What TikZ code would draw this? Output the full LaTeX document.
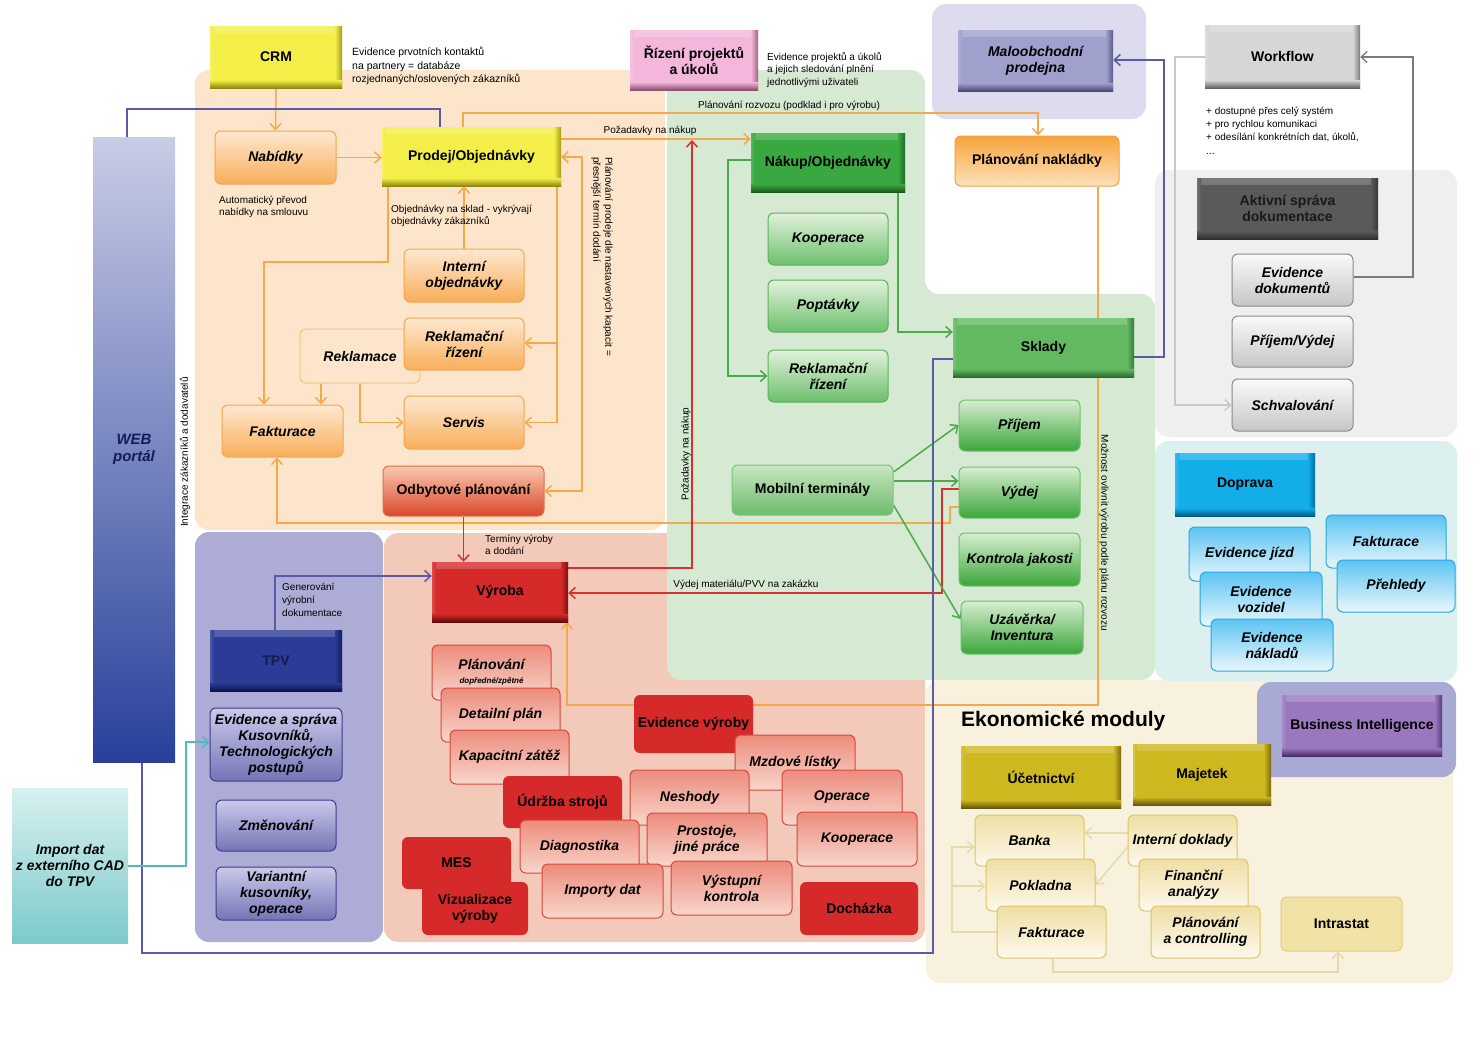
\documentclass[tikz,border=0pt]{standalone}
\usepackage{fontspec}
\setmainfont{Liberation Sans}
\usetikzlibrary{arrows.meta,calc}
\pgfdeclarelayer{bg}
\pgfdeclarelayer{conn}
\pgfsetlayers{bg,conn,main}
% region fills
\definecolor{oBg}{HTML}{FDE5CB}
\definecolor{gBg}{HTML}{D6E9D2}
\definecolor{rBg}{HTML}{F3C9BA}
\definecolor{tBg}{HTML}{ACACD6}
\definecolor{grBg}{HTML}{EFEFEF}
\definecolor{cBg}{HTML}{DCF0F0}
\definecolor{eBg}{HTML}{F7F1DD}
\definecolor{mBg}{HTML}{DCDCEE}
\definecolor{biBg}{HTML}{A9A9D5}
% bevel colours
\definecolor{yel}{HTML}{F4EE48}\definecolor{yelD}{HTML}{8E880E}
\definecolor{pnk}{HTML}{F4B6DA}\definecolor{pnkD}{HTML}{8A4E70}
\definecolor{grn}{HTML}{3AA840}\definecolor{grnD}{HTML}{185A1E}
\definecolor{skl}{HTML}{62B962}\definecolor{sklD}{HTML}{2A6A30}
\definecolor{mal}{HTML}{A0A0CC}\definecolor{malD}{HTML}{4A4A78}
\definecolor{wf}{HTML}{D6D6D6}\definecolor{wfD}{HTML}{646464}
\definecolor{ak}{HTML}{5A5A5A}\definecolor{akD}{HTML}{2E2E2E}
\definecolor{dop}{HTML}{12AEEA}\definecolor{dopD}{HTML}{005A88}
\definecolor{tpvc}{HTML}{2C3C96}\definecolor{tpvD}{HTML}{0A1450}
\definecolor{tpvT}{HTML}{121C55}
\definecolor{vyr}{HTML}{D62A2A}\definecolor{vyrD}{HTML}{640A0A}
\definecolor{ol}{HTML}{CDB820}\definecolor{olD}{HTML}{665808}
\definecolor{bic}{HTML}{9A78C0}\definecolor{biD}{HTML}{4A2A6A}
% sub box colours
\definecolor{oT}{HTML}{FEE8D0}\definecolor{oB}{HTML}{F8AE5A}\definecolor{oD}{HTML}{F2A650}
\definecolor{gT}{HTML}{E2F2DC}\definecolor{gB}{HTML}{6CBF6C}\definecolor{gD}{HTML}{5CB05C}
\definecolor{g2T}{HTML}{D8EED0}\definecolor{g2B}{HTML}{3AA63A}\definecolor{g2D}{HTML}{6CC06C}
\definecolor{rT}{HTML}{EC8C7C}\definecolor{rB}{HTML}{F8D6CC}\definecolor{rD}{HTML}{D9473A}
\definecolor{tT}{HTML}{CACAEA}\definecolor{tB}{HTML}{7474B6}\definecolor{tD}{HTML}{3C3C8C}
\definecolor{grT}{HTML}{FAFAFA}\definecolor{grB}{HTML}{C6C6C6}\definecolor{grD}{HTML}{8A8A8A}
\definecolor{bT}{HTML}{5CC4F2}\definecolor{bB}{HTML}{EAF7FC}\definecolor{bD}{HTML}{2AA6E2}
\definecolor{eT}{HTML}{EFDFA4}\definecolor{eB}{HTML}{FDF9EC}\definecolor{eD}{HTML}{DCC46A}
\definecolor{odT}{HTML}{F9C8AE}\definecolor{odB}{HTML}{D9482C}\definecolor{odD}{HTML}{E0704A}
\definecolor{nkT}{HTML}{F7A43C}\definecolor{nkB}{HTML}{FDE1BC}\definecolor{nkD}{HTML}{F4A040}
\definecolor{mbT}{HTML}{C8E6C0}\definecolor{mbB}{HTML}{6CBC6C}\definecolor{mbD}{HTML}{7CC47C}
\definecolor{inF}{HTML}{F1E2A6}\definecolor{inD}{HTML}{E0CC80}
\definecolor{rkD}{HTML}{F7C27E}
\definecolor{wbT}{HTML}{C8CCE6}\definecolor{wbB}{HTML}{28409A}
\definecolor{imT}{HTML}{D8F0F0}\definecolor{imB}{HTML}{7CCACA}
% lines
\definecolor{oLine}{HTML}{F5A94A}
\definecolor{rLine}{HTML}{D83030}
\definecolor{bLine}{HTML}{5A5AAA}
\definecolor{gLine}{HTML}{4CAA4C}
\definecolor{cLine}{HTML}{50B8C0}
\definecolor{grLine}{HTML}{7A7A7A}
\definecolor{lgLine}{HTML}{C8C8C8}
\definecolor{eLine}{HTML}{E6D9AC}
\newcommand\FBold{\fontsize{14}{16}\selectfont\bfseries}
\newcommand\FBI{\fontsize{14}{16}\selectfont\bfseries\itshape}
\newcommand\FSm{\fontsize{10}{12.5}\selectfont}
\newcommand\FTiny{\fontsize{8}{9}\selectfont\bfseries\itshape}
\newcommand\Bx[7]{\node[#6, minimum width={(#4-#2)*1pt}, minimum height={(#5-#3)*1pt}] (#1) at ({(#2+#4)/2},{(#3+#5)/2}) {#7};}
\tikzset{
 bev/.style 2 args={rectangle, align=center, inner sep=1pt, font=\FBold, text=black, fill=#1,
   path picture={
     \shade[top color=#1!80!white, bottom color=#1] (path picture bounding box.north west) rectangle ([yshift=-6pt]path picture bounding box.north east);
     \shade[left color=#1!85!white, right color=#1] (path picture bounding box.north west) rectangle ([xshift=4pt]path picture bounding box.south west);
     \shade[left color=#1, right color=#2!80!#1] ([xshift=-7pt]path picture bounding box.north east) rectangle (path picture bounding box.south east);
     \shade[top color=#1, bottom color=#2] ([yshift=8pt]path picture bounding box.south west) rectangle (path picture bounding box.south east);
   }},
 subb/.style n args={3}{rectangle, rounded corners=6pt, align=center, inner sep=1pt, font=\FBI, text=black,
   top color=#1, bottom color=#2, draw=#3, line width=1pt},
 osub/.style={subb={oT}{oB}{oD}},
 gsub/.style={subb={gT}{gB}{gD}},
 g2sub/.style={subb={g2T}{g2B}{g2D}},
 rsub/.style={subb={rT}{rB}{rD}},
 tsub/.style={subb={tT}{tB}{tD}},
 grsub/.style={subb={grT}{grB}{grD}},
 bsub/.style={subb={bT}{bB}{bD}},
 esub/.style={subb={eT}{eB}{eD}},
 rsol/.style={rectangle, rounded corners=6pt, align=center, inner sep=1pt, font=\FBold, text=black, fill=vyr},
 odbst/.style={subb={odT}{odB}{odD}, font=\FBold},
 naklst/.style={subb={nkT}{nkB}{nkD}, font=\FBold},
 mobst/.style={subb={mbT}{mbB}{mbD}, font=\FBold},
 intst/.style={rectangle, rounded corners=6pt, align=center, font=\FBold, fill=inF, draw=inD, line width=1pt},
 reklst/.style={rectangle, rounded corners=6pt, align=center, font=\FBI, draw=rkD, line width=1pt},
 webst/.style={rectangle, align=center, font=\fontsize{15}{17}\selectfont\bfseries\itshape, text=tpvT, top color=wbT, bottom color=wbB},
 impst/.style={rectangle, align=center, inner sep=0pt, font=\FBI, text=black, top color=imT, bottom color=imB},
 sm/.style={font=\FSm, inner sep=0pt, align=left, text=black},
 arw/.style={-{Straight Barb[length=6pt,width=11pt]}},
 oc/.style={draw=oLine, line width=1.5pt},
 rc/.style={draw=rLine, line width=1.5pt},
 bc/.style={draw=bLine, line width=1.5pt},
 gc/.style={draw=gLine, line width=1.5pt},
 cc/.style={draw=cLine, line width=1.5pt},
 grc/.style={draw=grLine, line width=1.3pt},
 lgc/.style={draw=lgLine, line width=1.3pt},
 ec/.style={draw=eLine, line width=1.5pt},
}
\begin{document}
\begin{tikzpicture}[x=1pt,y=-1pt]
\useasboundingbox (0,0) rectangle (1481,1047);
\begin{pgfonlayer}{bg}
\fill[white] (0,0) rectangle (1481,1047);
\fill[oBg, rounded corners=14] (195,70) rectangle (665,530);
\fill[rBg, rounded corners=14] (384,533) rectangle (925,942);
\fill[tBg, rounded corners=14] (195,532) rectangle (383,942);
\fill[gBg, rounded corners=14] (667,70) -- (925,70) -- (925,294) -- (1155,294) -- (1155,680) -- (667,680) -- cycle;
\fill[eBg, rounded corners=14] (926,680) rectangle (1453,983);
\fill[cBg, rounded corners=14] (1155,441) rectangle (1457,681);
\fill[grBg, rounded corners=14] (1155,170) rectangle (1457,437);
\fill[mBg, rounded corners=14] (932,4) rectangle (1146,119);
\fill[biBg, rounded corners=14] (1257,682) rectangle (1456,777);
\end{pgfonlayer}

% ---------- big bars
\Bx{web}{93}{137}{175}{762}{webst}{WEB\\portál}
\Bx{importd}{12}{788}{128}{943}{impst}{Import dat\\z externího CAD\\do TPV}

% ---------- bevel boxes
\Bx{crm}{210}{26}{342}{88}{bev={yel}{yelD}}{CRM}
\Bx{prodej}{382}{127}{561}{186}{bev={yel}{yelD}}{Prodej/Objednávky}
\Bx{rizeni}{630}{30}{758}{90}{bev={pnk}{pnkD}}{Řízení projektů\\a úkolů}
\Bx{nakup}{751}{133}{905}{192}{bev={grn}{grnD}}{Nákup/Objednávky}
\Bx{malo}{958}{30}{1113}{91}{bev={mal}{malD},font=\FBI}{Maloobchodní\\prodejna}
\Bx{workflow}{1205}{25}{1360}{88}{bev={wf}{wfD}}{Workflow}
\Bx{aktivni}{1197}{178}{1378}{239}{bev={ak}{akD},text=black!90}{Aktivní správa\\dokumentace}
\Bx{sklady}{953}{318}{1134}{377}{bev={skl}{sklD}}{Sklady}
\Bx{doprava}{1175}{453}{1315}{516}{bev={dop}{dopD}}{Doprava}
\Bx{tpv}{210}{630}{342}{691}{bev={tpvc}{tpvD},text=tpvT}{TPV}
\Bx{vyroba}{432}{562}{568}{622}{bev={vyr}{vyrD}}{Výroba}
\Bx{ucet}{961}{746}{1121}{808}{bev={ol}{olD}}{Účetnictví}
\Bx{majetek}{1133}{744}{1271}{805}{bev={ol}{olD}}{Majetek}
\Bx{bi}{1282}{695}{1442}{756}{bev={bic}{biD}}{Business Intelligence}

% ---------- sales
\Bx{nabidky}{215}{131}{336}{184}{osub}{Nabídky}
\Bx{interni}{404}{249}{524}{302}{osub}{Interní\\objednávky}
\Bx{reklamace}{300}{329}{420}{383}{reklst}{Reklamace}
\Bx{reklriz}{404}{318}{524}{370}{osub}{Reklamační\\řízení}
\Bx{fakturace}{222}{405}{343}{457}{osub}{Fakturace}
\Bx{servis}{404}{396}{524}{449}{osub}{Servis}
\Bx{odbyt}{383}{466}{544}{516}{odbst}{Odbytové plánování}
\Bx{naklad}{955}{136}{1119}{186}{naklst}{Plánování nakládky}

% ---------- purchasing / warehouse
\Bx{kooperace}{768}{213}{888}{265}{gsub}{Kooperace}
\Bx{poptavky}{768}{280}{888}{332}{gsub}{Poptávky}
\Bx{reklg}{768}{350}{888}{402}{gsub}{Reklamační\\řízení}
\Bx{mobil}{732}{465}{893}{515}{mobst}{Mobilní terminály}
\Bx{prijem}{959}{400}{1080}{451}{g2sub}{Příjem}
\Bx{vydej}{959}{467}{1080}{518}{g2sub}{Výdej}
\Bx{kontrola}{959}{533}{1080}{586}{g2sub}{Kontrola jakosti}
\Bx{uzaverka}{961}{601}{1083}{654}{g2sub}{Uzávěrka/\\Inventura}

% ---------- production
\Bx{planov}{432}{645}{551}{700}{rsub}{Plánování\\[-2pt]{\FTiny dopředné/zpětné}}
\Bx{detail}{441}{688}{560}{742}{rsub}{Detailní plán}
\Bx{kapac}{450}{730}{569}{784}{rsub}{Kapacitní zátěž}
\Bx{evidv}{634}{695}{753}{753}{rsol}{Evidence výroby}
\Bx{mzdove}{735}{735}{855}{790}{rsub}{Mzdové lístky}
\Bx{neshody}{630}{770}{749}{825}{rsub}{Neshody}
\Bx{operace}{782}{770}{902}{825}{rsub}{Operace}
\Bx{udrzba}{503}{776}{622}{828}{rsol}{Údržba strojů}
\Bx{diagn}{520}{820}{639}{873}{rsub}{Diagnostika}
\Bx{prostoje}{647}{813}{767}{866}{rsub}{Prostoje,\\jiné práce}
\Bx{kooperr}{797}{812}{917}{866}{rsub}{Kooperace}
\Bx{mes}{402}{837}{511}{889}{rsol}{MES}
\Bx{vizual}{422}{882}{528}{935}{rsol}{Vizualizace\\výroby}
\Bx{importy}{542}{864}{663}{918}{rsub}{Importy dat}
\Bx{vystupni}{671}{861}{792}{915}{rsub}{Výstupní\\kontrola}
\Bx{dochazka}{800}{882}{918}{935}{rsol}{Docházka}

% ---------- TPV
\Bx{evid}{210}{708}{342}{781}{tsub}{Evidence a správa\\Kusovníků,\\Technologických\\postupů}
\Bx{zmen}{216}{800}{336}{851}{tsub}{Změnování}
\Bx{variant}{216}{867}{336}{920}{tsub}{Variantní\\kusovníky,\\operace}

% ---------- documents
\Bx{evdok}{1232}{254}{1353}{306}{grsub}{Evidence\\dokumentů}
\Bx{prijvyd}{1232}{316}{1353}{367}{grsub}{Příjem/Výdej}
\Bx{schval}{1232}{379}{1353}{431}{grsub}{Schvalování}

% ---------- transport
\Bx{evjizd}{1189}{527}{1310}{581}{bsub}{Evidence jízd}
\Bx{evvoz}{1200}{572}{1322}{626}{bsub}{Evidence\\vozidel}
\Bx{evnakl}{1211}{619}{1333}{671}{bsub}{Evidence\\nákladů}
\Bx{faktd}{1326}{515}{1446}{568}{bsub}{Fakturace}
\Bx{prehl}{1337}{560}{1455}{612}{bsub}{Přehledy}

% ---------- economy
\Bx{banka}{975}{815}{1084}{866}{esub}{Banka}
\Bx{pokladna}{986}{859}{1095}{911}{esub}{Pokladna}
\Bx{faktE}{997}{906}{1106}{958}{esub}{Fakturace}
\Bx{interniD}{1128}{815}{1237}{866}{esub}{Interní doklady}
\Bx{financni}{1139}{859}{1248}{911}{esub}{Finanční\\analýzy}
\Bx{planctrl}{1151}{906}{1260}{958}{esub}{Plánování\\a controlling}
\Bx{intrastat}{1281}{897}{1402}{951}{intst}{Intrastat}

% ---------- texts
\node[sm, anchor=north west, font=\fontsize{10.5}{13.5}\selectfont] (crmnote) at (352,47) {Evidence prvotních kontaktů\\na partnery = databáze\\rozjednaných/oslovených zákazníků};
\node[sm, anchor=north west, font=\fontsize{10}{12}\selectfont] (autonote) at (219,196) {Automatický převod\\nabídky na smlouvu};
\node[sm, anchor=north west, font=\fontsize{10}{11.5}\selectfont] (objnote) at (391,205) {Objednávky na sklad - vykrývají\\objednávky zákazníků};
\node[sm, anchor=north west, font=\fontsize{10}{12.5}\selectfont] (riznote) at (767,52) {Evidence projektů a úkolů\\a jejich sledování plnění\\jednotlivými uživateli};
\node[sm] (rozvozlab) at (789,106) {Plánování rozvozu (podklad i pro výrobu)};
\node[sm] (pozadlab) at (650,131) {Požadavky na nákup};
\node[sm, anchor=north west, font=\fontsize{10}{12.8}\selectfont] (wfnote) at (1206,107) {+ dostupné přes celý systém\\+ pro rychlou komunikaci\\+ odesílání konkrétních dat, úkolů,\\[2pt]...};
\node[sm, anchor=north west, font=\fontsize{10}{12}\selectfont] (termnote) at (485,535) {Termíny výroby\\a dodání};
\node[sm, anchor=north west, font=\fontsize{10}{13}\selectfont] (gennote) at (282,583) {Generování\\výrobní\\dokumentace};
\node[sm] (vydlab) at (746,585) {Výdej materiálu/PVV na zakázku};
\node[sm, rotate=90] (intlab) at (185,452) {Integrace zákazníků a dodavatelů};
\node[sm, rotate=-90, anchor=west, font=\fontsize{10}{12}\selectfont] (planlab) at (602,157) {Plánování prodeje dle nastavených kapacit =\\přesnější termín dodání};
\node[sm, rotate=90] (pozvert) at (686,454) {Požadavky na nákup};
\node[sm, rotate=-90] (moznost) at (1104,533) {Možnost ovlivnit výrobu podle plánu rozvozu};
\node[anchor=west, inner sep=0pt, font=\fontsize{21}{24}\selectfont\bfseries] (ekonlab) at (961,721) {Ekonomické moduly};

% ---------- connectors
\begin{pgfonlayer}{conn}
\coordinate (pozadpt) at (692,139);
% orange
\draw[oc,arw] (crm.south) -- (nabidky.north);
\draw[oc,arw] (nabidky.east) -- (nabidky.east -| prodej.west);
\draw[oc,arw] (interni.north) -- (interni.north |- prodej.south);
\draw[oc,arw] (388,0 |- prodej.south) -- (388,262) -- (264,262) -- (264,0 |- fakturace.north);
\draw[oc,arw] (321,0 |- reklamace.south) -- (321,0 |- fakturace.north);
\draw[oc,arw] (360,0 |- reklamace.south) |- (servis.west);
\draw[oc,arw] (557,0 |- prodej.south) |- (servis.east);
\draw[oc,arw] (557,343) -- (557,343 -| reklriz.east);
\draw[oc,{Straight Barb[length=6pt,width=11pt]}-{Straight Barb[length=6pt,width=11pt]}] (prodej.east |- 0,157) -- (582,157) |- (odbyt.east);
\draw[oc,arw] (prodej.east |- pozadpt) -- (nakup.west |- pozadpt);
\draw[oc,arw] (463,0 |- prodej.north) -- (463,113) -- (1038,113) -- (1038,0 |- naklad.north);
\draw[oc,arw] (1098,0 |- naklad.south) -- (1098,705) -- (567,705) -- (567,0 |- vyroba.south);
\draw[oc,arw] (vydej.west |- 0,507) -- (950,507) -- (950,523) -- (277,523) -- (277,0 |- fakturace.south);
% red
\draw[rc,arw] (odbyt.south) -- (odbyt.south |- vyroba.north);
\draw[rc,arw] (vyroba.east |- 0,568) -- (692,568) -- ([yshift=-1pt]pozadpt);
\draw[rc,arw] (vydej.west |- 0,489) -- (942,489) -- (942,593) -- (vyroba.east |- 0,593);
% green
\draw[gc,arw] (nakup.west |- 0,160) -| (728,376) -- (reklg.west);
\draw[gc,arw] (898,0 |- nakup.south) |- (sklady.west |- 0,332);
\draw[gc,arw] (mobil.east |- 0,472) -- (prijem.west |- 0,425);
\draw[gc,arw] (mobil.east |- 0,481) -- (vydej.west |- 0,481);
\draw[gc,arw] (mobil.east |- 0,505) -- (uzaverka.west |- 0,619);
% blue
\draw[bc] (127,0 |- web.north) -- (127,109) -- (440,109) -- (440,0 |- prodej.north);
\draw[bc] (142,0 |- web.south) -- (142,953) -- (933,953) -- (933,359) -- (sklady.west |- 0,359);
\draw[bc,arw] (sklady.east |- 0,357) -- (1164,357) -- (1164,60) -- (malo.east |- 0,60);
\draw[bc,arw] (275,0 |- tpv.north) |- (vyroba.west |- 0,576);
% cyan
\draw[cc,arw] (importd.east |- 0,866) -- (186,866) -- (186,742) -- (evid.west |- 0,742);
% grey
\draw[grc,arw] (evdok.east |- 0,277) -- (1413,277) -- (1413,57) -- (workflow.east |- 0,57);
\draw[lgc,arw] (workflow.west |- 0,57) -- (1175,57) -- (1175,405) -- (schval.west |- 0,405);
% economy
\draw[ec,arw] (interniD.west |- 0,833) -- (banka.east |- 0,833);
\draw[ec,arw] (interniD.west |- 0,847) -- (pokladna.east |- 0,885);
\draw[ec,arw] (faktE.west |- 0,932) -- (952,932) -- (952,847) -- (banka.west |- 0,847);
\draw[ec,arw] (952,886) -- (pokladna.west |- 0,886);
\draw[ec,arw] (1053,0 |- faktE.south) -- (1053,972) -- (1338,972) -- (1338,0 |- intrastat.south);
\end{pgfonlayer}
\end{tikzpicture}
\end{document}
